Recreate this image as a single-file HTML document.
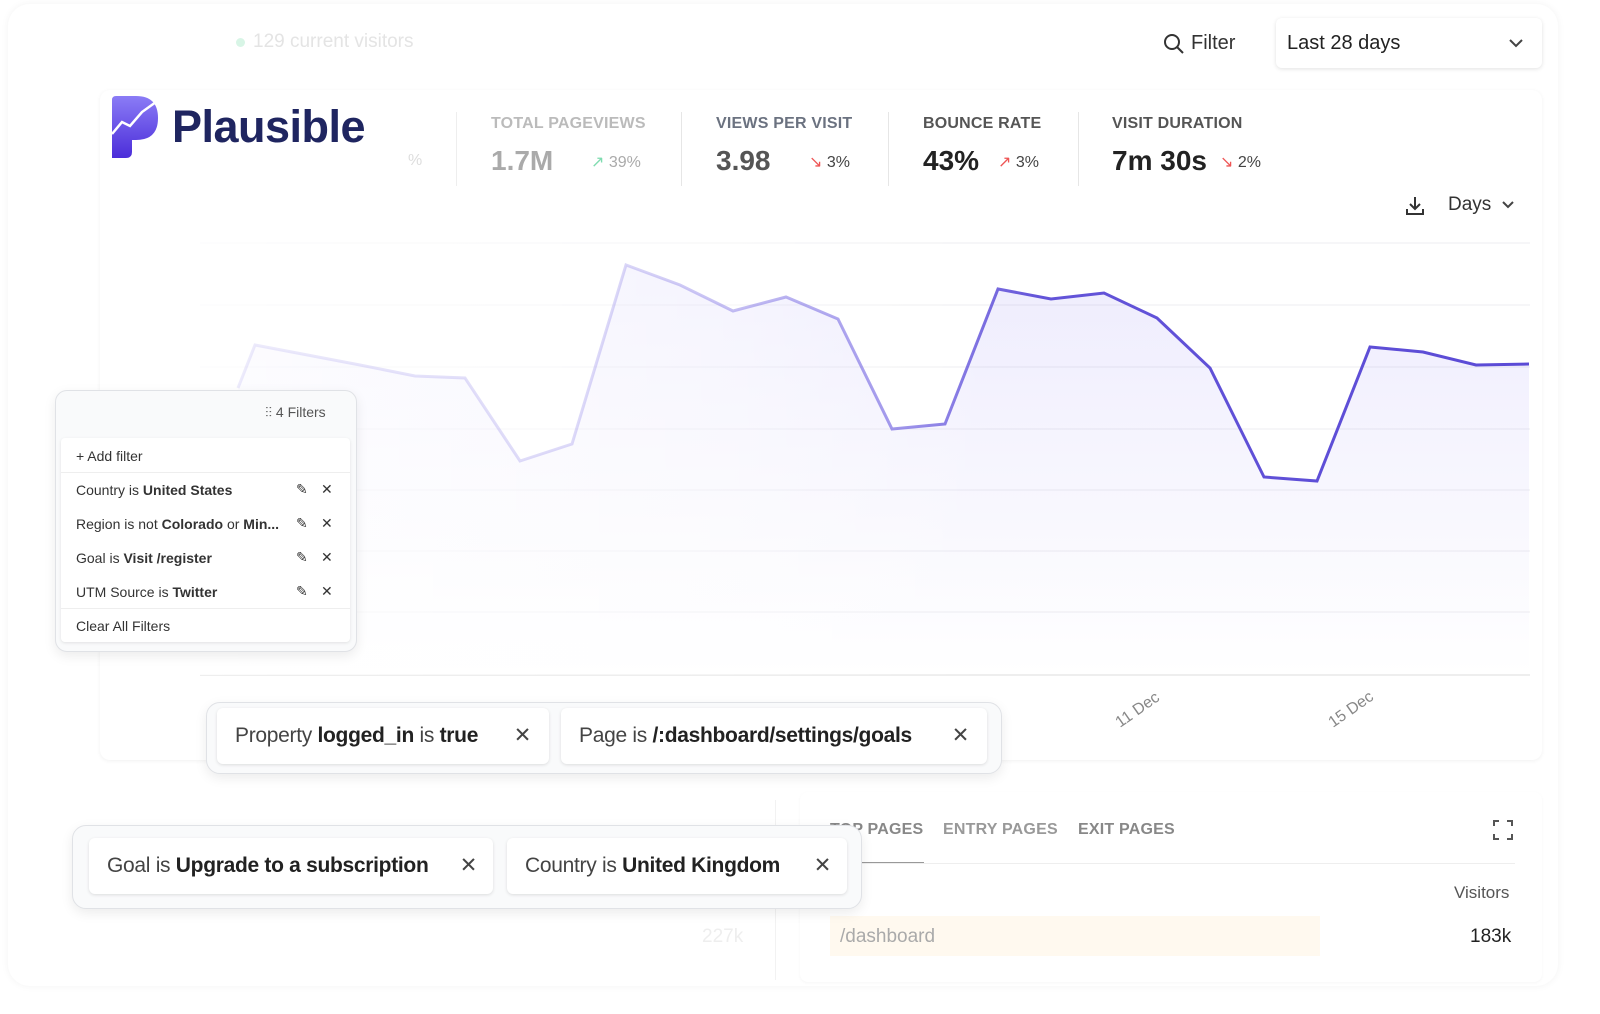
<!DOCTYPE html>
<html><head><meta charset="utf-8"><style>
body{margin:0;width:1600px;height:1014px;background:#fff;font-family:"Liberation Sans",sans-serif;position:relative;overflow:hidden}
.abs{position:absolute}
.card{position:absolute;left:8px;top:4px;width:1550px;height:982px;border-radius:22px;background:#fff;box-shadow:0 0 8px rgba(0,0,0,0.05)}
.lbl{font-size:16px;font-weight:bold;color:#6b7280;letter-spacing:.2px}
.big{font-size:28px;font-weight:bold;color:#222}
.chg{font-size:16px;color:#444}
.fbox{position:absolute;background:#f9fafb;border:1px solid #e0e2e6;border-radius:12px;box-shadow:0 4px 12px rgba(0,0,0,0.08)}
.pill{position:absolute;background:#fff;border-radius:6px;box-shadow:0 1px 3px rgba(0,0,0,0.12);font-size:21px;letter-spacing:-0.3px;color:#444;padding:0 18px;line-height:56px;white-space:nowrap}
.pill b{color:#222}
.row{position:absolute;left:76px;font-size:14px;color:#333}
.ic{position:absolute;font-size:14px;color:#333}
</style></head><body>
<div class="card"></div>
<div class="abs" style="left:236px;top:38px;width:9px;height:9px;border-radius:50%;background:#d8f5e6"></div>
<div class="abs" style="left:253px;top:31px;font-size:19px;color:#e4e4e4">129 current visitors</div>
<svg class="abs" style="left:1163px;top:33px" width="22" height="22"><circle cx="9" cy="9" r="7" fill="none" stroke="#333" stroke-width="2"/><line x1="14" y1="14" x2="20" y2="20" stroke="#333" stroke-width="2"/></svg>
<div class="abs" style="left:1191px;top:32px;font-size:20px;color:#333">Filter</div>
<div class="abs" style="left:1276px;top:18px;width:266px;height:50px;border-radius:6px;background:#fff;box-shadow:0 1px 4px rgba(0,0,0,0.12)"></div>
<div class="abs" style="left:1287px;top:32px;font-size:20px;color:#222">Last 28 days</div>
<svg class="abs" style="left:1508px;top:37px" width="16" height="12"><polyline points="2,3 8,9 14,3" fill="none" stroke="#444" stroke-width="2"/></svg>
<div class="abs" style="left:100px;top:90px;width:1442px;height:670px;border-radius:10px;background:#fff;box-shadow:0 1px 4px rgba(0,0,0,0.06)"></div>
<svg class="abs" style="left:110px;top:96px" width="50" height="64"><defs><linearGradient id="lg" x1="0" y1="0" x2="0" y2="1"><stop offset="0" stop-color="#8b7cf6"/><stop offset="1" stop-color="#4b2dd9"/></linearGradient></defs><path d="M2,4 Q2,0 6,0 L26,0 Q48,0 48,22 Q48,44 26,44 L22,44 L22,56 Q22,62 16,62 L2,62 Z" fill="url(#lg)"/><polyline points="2,38 12,26 20,30 32,16 46,6" fill="none" stroke="#fff" stroke-width="2.5"/></svg>
<div class="abs" style="left:172px;top:101px;font-size:45px;font-weight:bold;color:#1f2560;letter-spacing:-0.5px">Plausible</div>
<div class="abs" style="left:408px;top:152px;font-size:16px;color:#ddd">%</div>
<div class="abs" style="left:456px;top:112px;width:1px;height:74px;background:#eee"></div>
<div class="abs" style="left:681px;top:112px;width:1px;height:74px;background:#e6e6e6"></div>
<div class="abs" style="left:888px;top:112px;width:1px;height:74px;background:#e6e6e6"></div>
<div class="abs" style="left:1078px;top:112px;width:1px;height:74px;background:#e6e6e6"></div>
<div class="abs lbl" style="left:491px;top:115px;color:#bbb">TOTAL PAGEVIEWS</div>
<div class="abs big" style="left:491px;top:145px;color:#aaa">1.7M</div>
<div class="abs chg" style="left:591px;top:152px;color:#aaa"><span style="color:#7fdcb0">↗</span> 39%</div>
<div class="abs lbl" style="left:716px;top:115px">VIEWS PER VISIT</div>
<div class="abs big" style="left:716px;top:145px;color:#555">3.98</div>
<div class="abs chg" style="left:809px;top:152px"><span style="color:#e55">↘</span> 3%</div>
<div class="abs lbl" style="left:923px;top:115px;color:#555">BOUNCE RATE</div>
<div class="abs big" style="left:923px;top:145px">43%</div>
<div class="abs chg" style="left:998px;top:152px"><span style="color:#e55">↗</span> 3%</div>
<div class="abs lbl" style="left:1112px;top:115px;color:#555">VISIT DURATION</div>
<div class="abs big" style="left:1112px;top:145px">7m 30s</div>
<div class="abs chg" style="left:1220px;top:152px"><span style="color:#e55">↘</span> 2%</div>
<svg class="abs" style="left:1404px;top:195px" width="22" height="22"><path d="M11,2 V14 M6,9 L11,14 L16,9 M3,14 V19 H19 V14" fill="none" stroke="#333" stroke-width="2"/></svg>
<div class="abs" style="left:1448px;top:194px;font-size:19px;color:#333">Days</div>
<svg class="abs" style="left:1501px;top:200px" width="14" height="10"><polyline points="2,2 7,7 12,2" fill="none" stroke="#444" stroke-width="2"/></svg>
<svg class="abs" style="left:0;top:0" width="1600" height="1014">
<defs>
<linearGradient id="fill" x1="0" y1="0" x2="0" y2="1"><stop offset="0" stop-color="#7c6cf0" stop-opacity="0.13"/><stop offset="1" stop-color="#7c6cf0" stop-opacity="0"/></linearGradient>
<linearGradient id="fade" x1="0" x2="1"><stop offset="0" stop-color="#fff" stop-opacity="0.8"/><stop offset="0.4" stop-color="#fff" stop-opacity="0.4"/><stop offset="0.6" stop-color="#fff" stop-opacity="0"/></linearGradient>
<linearGradient id="ln" x1="0" x2="1"><stop offset="0" stop-color="#6b5ce0" stop-opacity="0.12"/><stop offset="0.3" stop-color="#6b5ce0" stop-opacity="0.25"/><stop offset="0.5" stop-color="#6b5ce0" stop-opacity="0.6"/><stop offset="0.62" stop-color="#5b4bd6" stop-opacity="0.95"/><stop offset="1" stop-color="#5b4bd6"/></linearGradient>
</defs>
<g stroke="#ededf0" stroke-width="1">
<line x1="200" y1="243" x2="1530" y2="243"/><line x1="200" y1="305" x2="1530" y2="305"/><line x1="200" y1="367" x2="1530" y2="367"/><line x1="200" y1="429" x2="1530" y2="429"/><line x1="200" y1="490" x2="1530" y2="490"/><line x1="200" y1="551" x2="1530" y2="551"/><line x1="200" y1="612" x2="1530" y2="612"/></g>
<line x1="200" y1="675" x2="1530" y2="675" stroke="#ddd"/>
<path d="M238,388 L255,345 L360,365 L415,376 L465,378 L520,461 L572,444 L626,265 L680,285 L733,311 L786,297 L838,319 L892,429 L945,424 L998,289 L1051,299 L1104,293 L1157,318 L1210,368 L1264,477 L1317,481 L1370,347 L1423,352 L1476,365 L1529,364 L1529,675 L238,675 Z" fill="url(#fill)"/>
<rect x="200" y="240" width="1330" height="435" fill="url(#fade)"/>
<polyline points="238,388 255,345 360,365 415,376 465,378 520,461 572,444 626,265 680,285 733,311 786,297 838,319 892,429 945,424 998,289 1051,299 1104,293 1157,318 1210,368 1264,477 1317,481 1370,347 1423,352 1476,365 1529,364" fill="none" stroke="url(#ln)" stroke-width="3"/>
<text x="1120" y="728" transform="rotate(-35 1120 728)" font-size="16" fill="#888" font-family="Liberation Sans">11 Dec</text>
<text x="1333" y="728" transform="rotate(-35 1333 728)" font-size="16" fill="#888" font-family="Liberation Sans">15 Dec</text>
</svg>
<div class="fbox" style="left:55px;top:390px;width:300px;height:260px"></div>
<div class="abs" style="left:265px;top:404px;font-size:14px;color:#555">⫶⫶ 4 Filters</div>
<div class="abs" style="left:61px;top:438px;width:289px;height:204px;background:#fff;border-radius:4px;box-shadow:0 1px 3px rgba(0,0,0,0.1)"></div>
<div class="row" style="top:448px">+ Add filter</div>
<div class="abs" style="left:61px;top:472px;width:289px;height:1px;background:#eee"></div>
<div class="row" style="top:482px">Country is <b>United States</b></div>
<div class="row" style="top:516px">Region is not <b>Colorado</b> or <b>Min...</b></div>
<div class="row" style="top:550px">Goal is <b>Visit /register</b></div>
<div class="row" style="top:584px">UTM Source is <b>Twitter</b></div>
<div class="abs" style="left:61px;top:608px;width:289px;height:1px;background:#eee"></div>
<div class="row" style="top:618px">Clear All Filters</div>
<div class="ic" style="left:296px;top:481px">✎</div><div class="ic" style="left:321px;top:481px">✕</div>
<div class="ic" style="left:296px;top:515px">✎</div><div class="ic" style="left:321px;top:515px">✕</div>
<div class="ic" style="left:296px;top:549px">✎</div><div class="ic" style="left:321px;top:549px">✕</div>
<div class="ic" style="left:296px;top:583px">✎</div><div class="ic" style="left:321px;top:583px">✕</div>
<div class="abs" style="left:775px;top:800px;width:1px;height:180px;background:#f2f2f2"></div>
<div class="abs" style="left:800px;top:792px;width:742px;height:190px;background:#fff;border-radius:8px;box-shadow:0 1px 3px rgba(0,0,0,0.04)"></div>
<div class="abs lbl" style="left:830px;top:821px;color:#888">TOP PAGES</div>
<div class="abs lbl" style="left:943px;top:821px;color:#999">ENTRY PAGES</div>
<div class="abs lbl" style="left:1078px;top:821px;color:#888">EXIT PAGES</div>
<div class="abs" style="left:830px;top:862px;width:94px;height:2px;background:#999"></div>
<div class="abs" style="left:830px;top:863px;width:685px;height:1px;background:#eee"></div>
<svg class="abs" style="left:1493px;top:820px" width="20" height="20"><path d="M1,6 V1 H6 M14,1 H19 V6 M19,14 V19 H14 M6,19 H1 V14" fill="none" stroke="#555" stroke-width="2"/></svg>
<div class="abs" style="left:1454px;top:883px;font-size:17px;color:#555">Visitors</div>
<div class="abs" style="left:830px;top:916px;width:490px;height:40px;background:#fff9ef"></div>
<div class="abs" style="left:840px;top:926px;font-size:19px;color:#aaa">/dashboard</div>
<div class="abs" style="left:1470px;top:926px;font-size:19px;color:#222">183k</div>
<div class="abs" style="left:702px;top:926px;font-size:19px;color:#eee">227k</div>
<div class="fbox" style="left:206px;top:702px;width:794px;height:70px;border-radius:14px"></div>
<div class="pill" style="left:217px;top:708px;width:296px">Property <b>logged_in</b> is <b>true</b> <span style="position:absolute;right:18px">✕</span></div>
<div class="pill" style="left:561px;top:708px;width:390px">Page is <b>/:dashboard/settings/goals</b> <span style="position:absolute;right:18px">✕</span></div>
<div class="fbox" style="left:72px;top:825px;width:788px;height:82px;border-radius:14px"></div>
<div class="pill" style="left:89px;top:838px;width:368px">Goal is <b>Upgrade to a subscription</b> <span style="position:absolute;right:16px">✕</span></div>
<div class="pill" style="left:507px;top:838px;width:304px">Country is <b>United Kingdom</b> <span style="position:absolute;right:16px">✕</span></div>
</body></html>
